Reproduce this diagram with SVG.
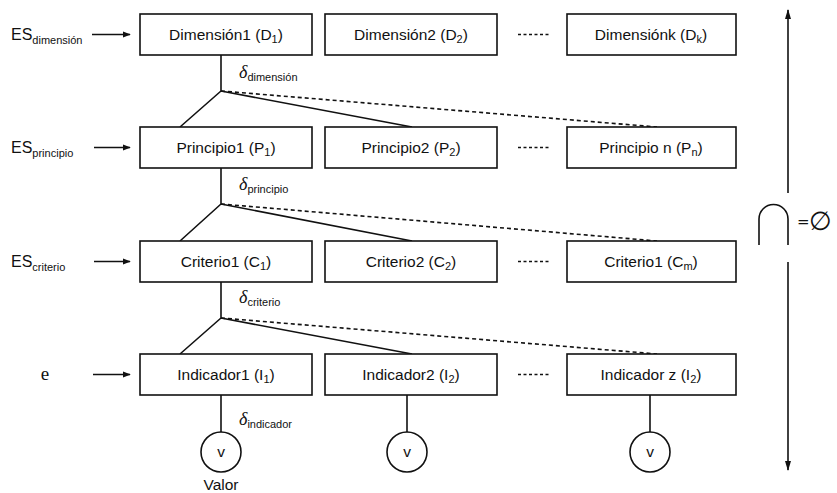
<svg xmlns="http://www.w3.org/2000/svg" width="837" height="493" viewBox="0 0 837 493">
  <defs>
    <marker id="arr" viewBox="0 0 10 10" refX="9" refY="5" markerWidth="8" markerHeight="8" markerUnits="userSpaceOnUse" orient="auto">
      <path d="M0,1 L10,5 L0,9 Z" fill="#111"/>
    </marker>
    <marker id="arrBig" viewBox="0 0 10 10" refX="9" refY="5" markerWidth="10" markerHeight="10" markerUnits="userSpaceOnUse" orient="auto">
      <path d="M0,2 L10,5 L0,8 Z" fill="#111"/>
    </marker>
  </defs>
  <style>
    .box { fill: #fff; stroke: #111; stroke-width: 1.6; }
    .lbl { font-family: "Liberation Sans", "DejaVu Sans", sans-serif; font-size: 15.5px; fill: #111; text-anchor: middle; }
    .side { font-family: "Liberation Sans", "DejaVu Sans", sans-serif; font-size: 16px; fill: #111; }
    .delta { font-family: "Liberation Serif", serif; font-style: italic; font-size: 18px; fill: #111; }
    .sub { font-size: 11px; font-style: normal; font-family: "Liberation Sans", "DejaVu Sans", sans-serif; }
    .ln { stroke: #111; stroke-width: 1.6; fill: none; }
    .dash { stroke: #111; stroke-width: 1.6; fill: none; stroke-dasharray: 4 3; }
    .dots { stroke: #111; stroke-width: 1.3; fill: none; stroke-dasharray: 3 2.5; }
    .circ { fill: #fff; stroke: #111; stroke-width: 1.6; }
  </style>

  <!-- connectors -->
  <g id="connectors">
    <!-- level inputs -->
    <line class="ln" x1="92" y1="34.5" x2="130" y2="34.5" marker-end="url(#arr)"/>
    <line class="ln" x1="94" y1="147.5" x2="130" y2="147.5" marker-end="url(#arr)"/>
    <line class="ln" x1="94" y1="261.5" x2="130" y2="261.5" marker-end="url(#arr)"/>
    <line class="ln" x1="93" y1="374.5" x2="130" y2="374.5" marker-end="url(#arr)"/>

    <!-- dimension -> principles -->
    <polyline class="ln" points="221,55 221,91 180,127"/>
    <line class="ln" x1="221" y1="91" x2="412" y2="127"/>
    <line class="dash" x1="221" y1="91" x2="657" y2="127"/>

    <!-- principle -> criteria -->
    <polyline class="ln" points="221,168 221,204 180,241"/>
    <line class="ln" x1="221" y1="204" x2="412" y2="241"/>
    <line class="dash" x1="221" y1="204" x2="657" y2="241"/>

    <!-- criterion -> indicators -->
    <polyline class="ln" points="221,282 221,318 180,354"/>
    <line class="ln" x1="221" y1="318" x2="412" y2="354"/>
    <line class="dash" x1="221" y1="318" x2="657" y2="354"/>

    <!-- indicators -> values -->
    <line class="ln" x1="221" y1="395" x2="221" y2="432"/>
    <line class="ln" x1="407" y1="395" x2="407" y2="432"/>
    <line class="ln" x1="650" y1="395" x2="650" y2="432"/>

    <!-- ellipsis between second and last column -->
    <line class="dots" x1="518" y1="34.5" x2="551" y2="34.5"/>
    <line class="dots" x1="518" y1="147.5" x2="551" y2="147.5"/>
    <line class="dots" x1="518" y1="261.5" x2="551" y2="261.5"/>
    <line class="dots" x1="518" y1="374.5" x2="551" y2="374.5"/>

    <!-- vertical double arrow with intersection -->
    <line class="ln" x1="788" y1="193" x2="788" y2="10" marker-end="url(#arrBig)"/>
    <line class="ln" x1="788" y1="262" x2="788" y2="470" marker-end="url(#arrBig)"/>
  </g>

  <!-- side labels -->
  <g id="side-labels">
    <text class="side" x="11" y="40">ES<tspan class="sub" dy="4">dimensión</tspan></text>
    <text class="side" x="11" y="153">ES<tspan class="sub" dy="4">principio</tspan></text>
    <text class="side" x="11" y="267">ES<tspan class="sub" dy="4">criterio</tspan></text>
    <text x="45" y="380" font-family="Liberation Serif, serif" font-size="19" fill="#111" text-anchor="middle">e</text>
  </g>

  <!-- dimension row -->
  <g id="D1"><rect class="box" x="140" y="14" width="172" height="41"/><text class="lbl" x="226" y="40">Dimensión1 (D<tspan class="sub" dy="3">1</tspan><tspan dy="-3">)</tspan></text></g>
  <g id="D2"><rect class="box" x="325" y="14" width="172" height="41"/><text class="lbl" x="411" y="40">Dimensión2 (D<tspan class="sub" dy="3">2</tspan><tspan dy="-3">)</tspan></text></g>
  <g id="Dk"><rect class="box" x="567" y="14" width="169" height="41"/><text class="lbl" x="651" y="40">Dimensiónk (D<tspan class="sub" dy="3">k</tspan><tspan dy="-3">)</tspan></text></g>

  <!-- principle row -->
  <g id="P1"><rect class="box" x="140" y="127" width="172" height="41"/><text class="lbl" x="226" y="153">Principio1 (P<tspan class="sub" dy="3">1</tspan><tspan dy="-3">)</tspan></text></g>
  <g id="P2"><rect class="box" x="325" y="127" width="172" height="41"/><text class="lbl" x="411" y="153">Principio2 (P<tspan class="sub" dy="3">2</tspan><tspan dy="-3">)</tspan></text></g>
  <g id="Pn"><rect class="box" x="567" y="127" width="169" height="41"/><text class="lbl" x="651" y="153">Principio n (P<tspan class="sub" dy="3">n</tspan><tspan dy="-3">)</tspan></text></g>

  <!-- criterion row -->
  <g id="C1"><rect class="box" x="140" y="241" width="172" height="41"/><text class="lbl" x="226" y="267">Criterio1 (C<tspan class="sub" dy="3">1</tspan><tspan dy="-3">)</tspan></text></g>
  <g id="C2"><rect class="box" x="325" y="241" width="172" height="41"/><text class="lbl" x="411" y="267">Criterio2 (C<tspan class="sub" dy="3">2</tspan><tspan dy="-3">)</tspan></text></g>
  <g id="Cm"><rect class="box" x="567" y="241" width="169" height="41"/><text class="lbl" x="651" y="267">Criterio1 (C<tspan class="sub" dy="3">m</tspan><tspan dy="-3">)</tspan></text></g>

  <!-- indicator row -->
  <g id="I1"><rect class="box" x="140" y="354" width="172" height="41"/><text class="lbl" x="226" y="380">Indicador1 (I<tspan class="sub" dy="3">1</tspan><tspan dy="-3">)</tspan></text></g>
  <g id="I2"><rect class="box" x="325" y="354" width="172" height="41"/><text class="lbl" x="411" y="380">Indicador2 (I<tspan class="sub" dy="3">2</tspan><tspan dy="-3">)</tspan></text></g>
  <g id="Iz"><rect class="box" x="567" y="354" width="169" height="41"/><text class="lbl" x="651" y="380">Indicador z (I<tspan class="sub" dy="3">2</tspan><tspan dy="-3">)</tspan></text></g>

  <!-- aggregation labels -->
  <g id="deltas">
    <text class="delta" x="239" y="78">δ<tspan class="sub" dy="3">dimensión</tspan></text>
    <text class="delta" x="239" y="190">δ<tspan class="sub" dy="3">principio</tspan></text>
    <text class="delta" x="239" y="303">δ<tspan class="sub" dy="3">criterio</tspan></text>
    <text class="delta" x="239" y="425">δ<tspan class="sub" dy="3">indicador</tspan></text>
  </g>

  <!-- value nodes -->
  <g id="V1"><circle class="circ" cx="221" cy="452" r="20"/><text class="lbl" x="221" y="457" font-size="12">v</text></g>
  <g id="V2"><circle class="circ" cx="407" cy="452" r="20"/><text class="lbl" x="407" y="457" font-size="12">v</text></g>
  <g id="V3"><circle class="circ" cx="650" cy="452" r="20"/><text class="lbl" x="650" y="457" font-size="12">v</text></g>
  <text class="lbl" x="221" y="490" font-size="14">Valor</text>

  <!-- intersection is empty -->
  <g id="intersection">
    <path class="ln" d="M759,245 V219 A14.5,14.5 0 0 1 788,219 V245"/>
    <text x="797" y="227" font-family="DejaVu Sans, sans-serif" font-size="15" fill="#111">=</text>
    <text x="809" y="230" font-family="DejaVu Sans, sans-serif" font-size="26" fill="#111">∅</text>
  </g>
</svg>
